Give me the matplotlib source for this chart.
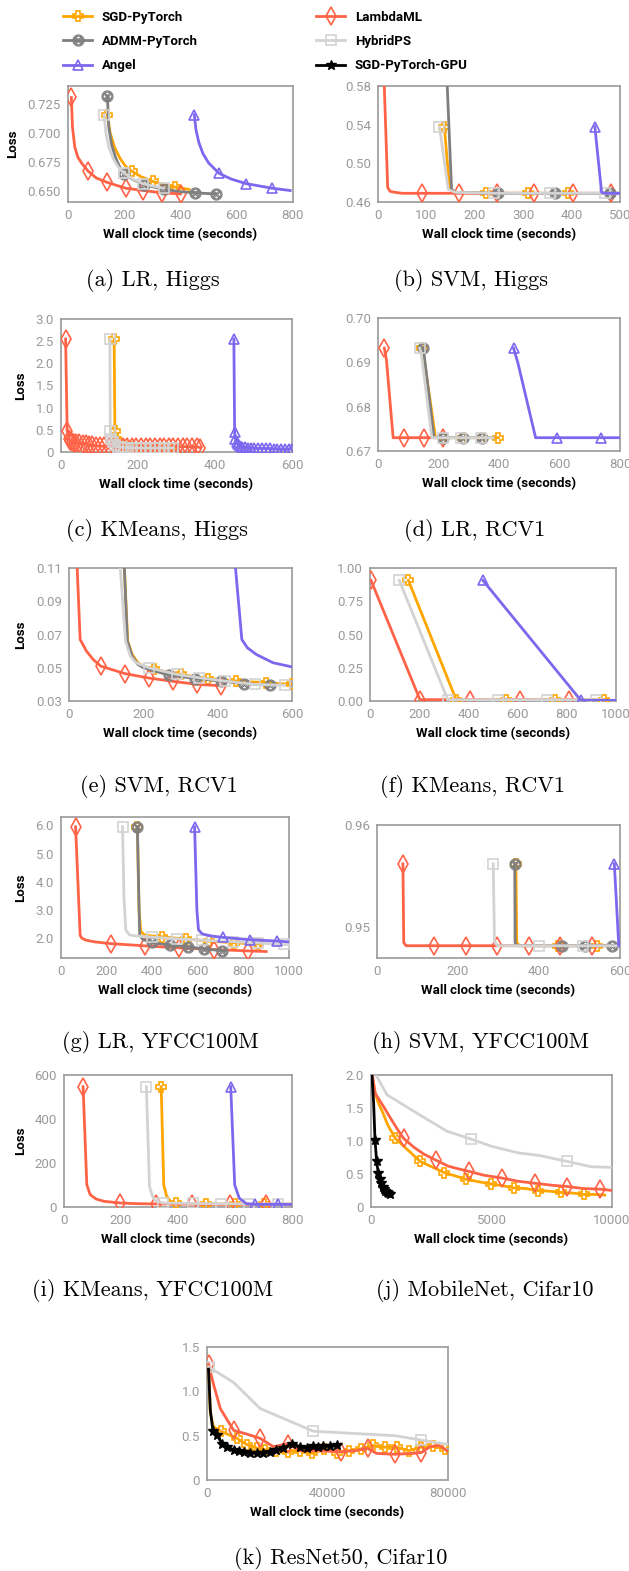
import matplotlib
matplotlib.use("Agg")
import matplotlib.pyplot as plt
from matplotlib.lines import Line2D

# ---------------- data ----------------
# (a) LR, Higgs
a_lam_x = [12, 16, 24, 35, 48, 71, 100, 140, 205, 268, 333, 400]
a_lam_y = [0.731, 0.705, 0.688, 0.679, 0.674, 0.667, 0.661, 0.657, 0.652, 0.650, 0.648, 0.647]
a_sgd_x = [140, 150, 165, 185, 205, 226, 260, 301, 340, 380, 430]
a_sgd_y = [0.716, 0.700, 0.688, 0.678, 0.671, 0.667, 0.662, 0.658, 0.655, 0.653, 0.651]
a_admm_x = [140, 145, 155, 170, 185, 200, 235, 270, 340, 400, 450, 525]
a_admm_y = [0.732, 0.705, 0.690, 0.678, 0.670, 0.664, 0.659, 0.655, 0.651, 0.649, 0.648, 0.647]
a_hyb_x = [128, 135, 145, 160, 180, 200, 230, 265, 300, 340]
a_hyb_y = [0.716, 0.700, 0.688, 0.678, 0.670, 0.665, 0.660, 0.656, 0.654, 0.652]
a_ang_x = [449, 455, 465, 480, 500, 537, 580, 633, 680, 725, 790]
a_ang_y = [0.716, 0.703, 0.692, 0.682, 0.674, 0.665, 0.660, 0.656, 0.654, 0.652, 0.650]

# (b) SVM, Higgs
b_lam_x = [5, 20, 25, 35, 50, 90, 168, 245, 323, 402, 481, 500]
b_lam_y = [0.700, 0.475, 0.471, 0.470, 0.469, 0.469, 0.469, 0.469, 0.469, 0.469, 0.469, 0.469]
b_sgd_x = [137, 148, 160, 223, 309, 393, 400]
b_sgd_y = [0.538, 0.473, 0.470, 0.469, 0.469, 0.469, 0.469]
b_admm_x = [133, 152, 160, 248, 365, 480, 500]
b_admm_y = [0.700, 0.473, 0.470, 0.469, 0.469, 0.469, 0.469]
b_hyb_x = [127, 145, 160, 240, 355, 470, 500]
b_hyb_y = [0.538, 0.473, 0.470, 0.469, 0.469, 0.469, 0.469]
b_ang_x = [448, 462, 470, 500]
b_ang_y = [0.538, 0.470, 0.469, 0.469]

# (c) KMeans, Higgs
c_lam_x = [12, 16, 20, 24, 28, 34, 40, 48, 56, 64, 72, 80, 90, 100, 112, 124, 136, 148,
           160, 172, 184, 196, 208, 220, 232, 244, 256, 268, 280, 292, 304, 316, 328, 340, 352, 362]
c_lam_y = [2.55, 0.48, 0.30, 0.24, 0.22, 0.21, 0.20, 0.20, 0.19, 0.18, 0.16, 0.15, 0.14, 0.13,
           0.13, 0.12, 0.12, 0.12, 0.12, 0.12, 0.12, 0.12, 0.12, 0.12, 0.12, 0.12, 0.12, 0.12,
           0.12, 0.12, 0.12, 0.12, 0.12, 0.12, 0.12, 0.10]
c_sgd_x = [138, 140, 143, 147, 152, 160, 170, 180, 190, 200, 212, 224, 236, 248, 260, 272, 284]
c_sgd_y = [2.55, 0.48, 0.30, 0.22, 0.18, 0.14, 0.12, 0.11, 0.10, 0.10, 0.10, 0.10, 0.10, 0.10,
           0.10, 0.10, 0.10]
c_hyb_x = [127, 128, 131, 135, 140, 148, 156, 164, 174, 184, 196, 208, 220, 232, 244, 256,
           268, 280, 292]
c_hyb_y = [2.55, 0.48, 0.30, 0.22, 0.16, 0.12, 0.11, 0.10, 0.10, 0.10, 0.09, 0.09, 0.09, 0.09,
           0.09, 0.09, 0.09, 0.09, 0.09]
c_ang_x = [449, 451, 453, 456, 460, 465, 470, 478, 486, 494, 502, 512, 522, 532, 542, 552,
           562, 572, 582, 592, 600]
c_ang_y = [2.55, 0.45, 0.30, 0.22, 0.17, 0.14, 0.12, 0.11, 0.10, 0.09, 0.09, 0.08, 0.08, 0.08,
           0.08, 0.07, 0.07, 0.07, 0.07, 0.07, 0.07]

# (d) LR, RCV1
d_lam_x = [21, 28, 50, 87, 152, 215]
d_lam_y = [0.6932, 0.6905, 0.673, 0.673, 0.673, 0.673]
d_sgd_x = [145, 150, 190, 215, 280, 345, 398]
d_sgd_y = [0.6932, 0.692, 0.673, 0.673, 0.673, 0.673, 0.673]
d_admm_x = [148, 152, 185, 215, 280, 345, 380]
d_admm_y = [0.6932, 0.692, 0.673, 0.673, 0.673, 0.673, 0.673]
d_hyb_x = [138, 143, 178, 215, 275, 340, 380]
d_hyb_y = [0.6932, 0.692, 0.673, 0.673, 0.673, 0.673, 0.673]
d_ang_x = [448, 462, 521, 593, 738, 800]
d_ang_y = [0.6932, 0.690, 0.673, 0.673, 0.673, 0.673]

# (e) SVM, RCV1
e_lam_x = [18, 22, 30, 47, 65, 85, 150, 215, 280, 345, 410]
e_lam_y = [0.13, 0.11, 0.067, 0.060, 0.055, 0.051, 0.0465, 0.0438, 0.0418, 0.0400, 0.0392]
e_sgd_x = [145, 149, 158, 170, 185, 200, 230, 300, 375, 450, 530, 600]
e_sgd_y = [0.13, 0.11, 0.066, 0.058, 0.053, 0.051, 0.049, 0.046, 0.0435, 0.042, 0.041, 0.040]
e_admm_x = [145, 149, 157, 170, 185, 200, 270, 340, 410, 470, 540]
e_admm_y = [0.13, 0.11, 0.066, 0.057, 0.052, 0.050, 0.0455, 0.0435, 0.042, 0.0405, 0.0395]
e_hyb_x = [134, 138, 152, 165, 180, 215, 290, 350, 420, 500, 580]
e_hyb_y = [0.13, 0.11, 0.066, 0.057, 0.053, 0.050, 0.046, 0.044, 0.042, 0.040, 0.0395]
e_ang_x = [443, 448, 465, 480, 504, 549, 600]
e_ang_y = [0.13, 0.11, 0.067, 0.062, 0.058, 0.053, 0.0505]

# (f) KMeans, RCV1
f_lam_x = [4, 203, 407, 608, 807, 830]
f_lam_y = [0.907, 0.01, 0.01, 0.01, 0.01, 0.01]
f_sgd_x = [156, 350, 553, 753, 950, 960]
f_sgd_y = [0.907, 0.01, 0.01, 0.01, 0.01, 0.01]
f_hyb_x = [119, 316, 522, 719, 920, 940]
f_hyb_y = [0.907, 0.01, 0.01, 0.01, 0.01, 0.01]
f_ang_x = [459, 857, 1000]
f_ang_y = [0.907, 0.005, 0.005]

# (g) LR, YFCC100M
g_lam_x = [64, 84, 92, 110, 150, 218, 368, 519, 673, 822, 900]
g_lam_y = [5.95, 2.10, 2.00, 1.93, 1.87, 1.81, 1.73, 1.66, 1.60, 1.55, 1.53]
g_sgd_x = [335, 342, 350, 365, 400, 444, 547, 650, 757, 866, 880]
g_sgd_y = [5.95, 3.0, 2.25, 2.12, 2.08, 2.05, 1.97, 1.90, 1.84, 1.80, 1.79]
g_admm_x = [335, 345, 360, 400, 478, 558, 627, 705, 720]
g_admm_y = [5.95, 2.1, 1.95, 1.85, 1.75, 1.70, 1.62, 1.56, 1.55]
g_hyb_x = [270, 276, 284, 300, 330, 397, 507, 620, 754, 866, 976, 1000]
g_hyb_y = [5.95, 3.5, 2.3, 2.12, 2.08, 2.04, 1.98, 1.93, 1.88, 1.83, 1.78, 1.77]
g_ang_x = [586, 596, 603, 620, 660, 710, 830, 947, 1000]
g_ang_y = [5.95, 3.0, 2.3, 2.15, 2.08, 2.03, 1.95, 1.90, 1.87]

# (h) SVM, YFCC100M
h_lam_x = [64, 66, 72, 141, 219, 297, 375, 452, 530, 600]
h_lam_y = [0.9562, 0.9485, 0.9482, 0.9482, 0.9482, 0.9482, 0.9482, 0.9482, 0.9482, 0.9482]
h_sgd_x = [343, 345, 352, 448, 542, 600]
h_sgd_y = [0.9562, 0.9485, 0.9482, 0.9482, 0.9482, 0.9482]
h_admm_x = [340, 341, 345, 458, 513, 580, 600]
h_admm_y = [0.9562, 0.9485, 0.9482, 0.9482, 0.9482, 0.9482, 0.9482]
h_hyb_x = [287, 290, 298, 399, 509, 600]
h_hyb_y = [0.9562, 0.9486, 0.9482, 0.9482, 0.9482, 0.9482]
h_ang_x = [586, 597, 600]
h_ang_y = [0.9562, 0.9482, 0.9482]

# (i) KMeans, YFCC100M
i_lam_x = [67, 80, 92, 113, 140, 198, 260, 324, 450, 581, 710, 800]
i_lam_y = [547, 101, 56, 36, 26, 18, 15, 14, 13, 12, 12, 12]
i_sgd_x = [341, 350, 360, 375, 394, 497, 599, 700, 800]
i_sgd_y = [547, 100, 50, 22, 16, 14, 13, 13, 13]
i_hyb_x = [289, 300, 310, 320, 347, 453, 550, 650, 750, 800]
i_hyb_y = [547, 94, 50, 30, 18, 16, 15, 14, 14, 14]
i_ang_x = [585, 599, 615, 640, 669, 751, 800]
i_ang_y = [547, 100, 40, 15, 12, 12, 12]

# (j) MobileNet, Cifar10
j_gpu_x = [25, 110, 166, 234, 303, 359, 420, 480, 540, 600, 660, 720, 772]
j_gpu_y = [2.1, 1.57, 1.02, 0.69, 0.51, 0.42, 0.36, 0.31, 0.28, 0.25, 0.23, 0.21, 0.19]
j_sgd_x = [30, 150, 300, 500, 700, 1007, 1628, 2041, 2455, 3048, 3500, 3945, 4500, 4979,
           5500, 5931, 6400, 6910, 7400, 7903, 8400, 8828, 9300, 9700]
j_sgd_y = [2.05, 1.75, 1.58, 1.42, 1.24, 1.04, 0.83, 0.69, 0.62, 0.52, 0.47, 0.42, 0.38, 0.35,
           0.32, 0.29, 0.28, 0.25, 0.24, 0.22, 0.21, 0.19, 0.19, 0.18]
j_lam_x = [30, 179, 524, 869, 1214, 1352, 1800, 2200, 2690, 3200, 3600, 4069, 4700, 5421,
           6100, 6800, 7500, 8152, 8800, 9517, 10000]
j_lam_y = [2.05, 1.72, 1.52, 1.31, 1.11, 1.04, 0.90, 0.80, 0.71, 0.62, 0.58, 0.54, 0.48, 0.44,
           0.39, 0.36, 0.33, 0.31, 0.28, 0.27, 0.25]
j_hyb_x = [207, 662, 1200, 2000, 3145, 4138, 5000, 6110, 7000, 8138, 9145, 10000]
j_hyb_y = [2.00, 1.70, 1.58, 1.40, 1.15, 1.03, 0.92, 0.82, 0.78, 0.69, 0.61, 0.60]

# (k) ResNet50, Cifar10
k_hyb_x = [552, 8828, 17655, 35310, 62345, 71172, 80000]
k_hyb_y = [1.275, 1.10, 0.806, 0.55, 0.50, 0.45, 0.40]
k_lam_x = [500, 2000, 4414, 8828, 13000, 17655, 22069, 26800, 30900, 36000, 44470, 49000,
           53300, 56276, 62345, 68400, 71172, 74000, 77200, 80000]
k_lam_y = [1.31, 1.10, 0.806, 0.56, 0.52, 0.47, 0.375, 0.41, 0.33, 0.33, 0.32, 0.33,
           0.356, 0.30, 0.29, 0.30, 0.31, 0.375, 0.39, 0.32]
k_sgd_x = [500, 1100, 2200, 4634, 9931, 13241, 16550, 19300, 23000, 27000, 31000, 35000,
           39000, 43000, 47000, 51000, 55000, 59000, 63000, 67000, 71000, 75000, 79000]
k_sgd_y = [1.28, 0.75, 0.60, 0.55, 0.47, 0.40, 0.36, 0.34, 0.33, 0.32, 0.33, 0.30,
           0.35, 0.31, 0.33, 0.35, 0.39, 0.37, 0.37, 0.33, 0.37, 0.38, 0.35]
k_gpu_x = [500, 1100, 1986, 3310, 4966, 6620, 8828, 10500, 12138, 14300, 16550, 18700,
           20966, 23000, 25380, 28138, 30900, 33100, 35310, 37000, 38620, 40800, 43034]
k_gpu_y = [1.25, 0.79, 0.55, 0.51, 0.41, 0.375, 0.34, 0.33, 0.32, 0.31, 0.30, 0.31,
           0.32, 0.34, 0.36, 0.41, 0.375, 0.36, 0.38, 0.37, 0.38, 0.38, 0.39]

# ---------------- styles ----------------
SANS = "Roboto"
TICK_GRAY = "#9a9a9a"
STYLE = {
    "SGD-PyTorch": dict(color="#FFA500", marker="P", ms=6.5, mfc="none", mew=1.2, z=3),
    "ADMM-PyTorch": dict(color="#7f7f7f", marker=r"$\otimes$", ms=8, mfc="none", mew=0.8, z=4),
    "Angel": dict(color="#7B68EE", marker="^", ms=7, mfc="none", mew=1.2, z=6),
    "LambdaML": dict(color="#FF6347", marker="d", ms=9, mfc="none", mew=1.2, z=3.5),
    "HybridPS": dict(color="#D3D3D3", marker="s", ms=6.5, mfc="none", mew=1.2, z=5),
    "SGD-PyTorch-GPU": dict(color="black", marker="*", ms=7, mfc="black", mew=1.0, z=7),
}

W, H = 629, 1571
fig = plt.figure(figsize=(W / 100, H / 100), dpi=100)


def curve(ax, name, x, y, marks):
    st = STYLE[name]
    ax.plot(x, y, color=st["color"], lw=2, marker=st["marker"], ms=st["ms"],
            mfc=st["mfc"], mec=st["color"], mew=st["mew"], markevery=marks, zorder=st["z"])


def panel(box, xlim, xticks, ylim, yticks, ylabels, caption, cap_x, cap_y, loss):
    left, top, right, bottom = box
    ax = fig.add_axes([left / W, 1 - bottom / H, (right - left) / W, (bottom - top) / H])
    ax.set_xlim(*xlim)
    ax.set_ylim(*ylim)
    ax.set_xticks(xticks, [str(t) for t in xticks])
    ax.set_yticks(yticks, ylabels)
    ax.tick_params(length=0, labelsize=9.5, labelcolor=TICK_GRAY, pad=5)
    for lab in ax.get_xticklabels() + ax.get_yticklabels():
        lab.set_fontfamily(SANS)
    for sp in ax.spines.values():
        sp.set_color(TICK_GRAY)
        sp.set_linewidth(1.2)
    xc = (left + right) / 2
    fig.text(xc / W, 1 - (bottom + 33) / H, "Wall clock time (seconds)", ha="center",
             va="center", fontsize=9.5, fontweight="bold", fontfamily=SANS)
    if loss:
        fig.text(loss / W, 1 - (top + bottom) / 2 / H, "Loss", rotation=90, ha="center",
                 va="center", fontsize=9.5, fontweight="bold", fontfamily=SANS)
    fig.text(cap_x / W, 1 - cap_y / H, caption, ha="center", va="center",
             fontsize=16, fontfamily="cmr10")
    return ax


# (a)
ax = panel((68, 86, 293, 202), (0, 800), [0, 200, 400, 600, 800], (0.64, 0.741),
           [0.65, 0.675, 0.70, 0.725], ["0.650", "0.675", "0.700", "0.725"],
           "(a) LR, Higgs", 153, 281, 13)
curve(ax, "SGD-PyTorch", a_sgd_x, a_sgd_y, [0, 5, 7, 9])
curve(ax, "LambdaML", a_lam_x, a_lam_y, [0, 5, 7, 8, 9, 10, 11])
curve(ax, "ADMM-PyTorch", a_admm_x, a_admm_y, [0, 5, 7, 8, 10, 11])
curve(ax, "HybridPS", a_hyb_x, a_hyb_y, [0, 5, 7, 9])
curve(ax, "Angel", a_ang_x, a_ang_y, [0, 5, 7, 9])

# (b)
ax = panel((378, 86, 620, 202), (0, 500), [0, 100, 200, 300, 400, 500], (0.46, 0.58),
           [0.46, 0.50, 0.54, 0.58], ["0.46", "0.50", "0.54", "0.58"],
           "(b) SVM, Higgs", 471, 281, None)
curve(ax, "SGD-PyTorch", b_sgd_x, b_sgd_y, [0, 3, 4, 5])
curve(ax, "LambdaML", b_lam_x, b_lam_y, [5, 6, 7, 8, 9, 10])
curve(ax, "ADMM-PyTorch", b_admm_x, b_admm_y, [3, 4, 5])
curve(ax, "HybridPS", b_hyb_x, b_hyb_y, [0, 3, 4, 5])
curve(ax, "Angel", b_ang_x, b_ang_y, [0])

# (c)
ax = panel((61, 319, 292, 452), (0, 600), [0, 200, 400, 600], (0, 3.0),
           [0, 0.5, 1.0, 1.5, 2.0, 2.5, 3.0], ["0", "0.5", "1.0", "1.5", "2.0", "2.5", "3.0"],
           "(c) KMeans, Higgs", 157, 531, 21)
curve(ax, "SGD-PyTorch", c_sgd_x, c_sgd_y, None)
curve(ax, "LambdaML", c_lam_x, c_lam_y, None)
curve(ax, "HybridPS", c_hyb_x, c_hyb_y, None)
curve(ax, "Angel", c_ang_x, c_ang_y, None)

# (d)
ax = panel((378, 318, 620, 451), (0, 800), [0, 200, 400, 600, 800], (0.67, 0.70),
           [0.67, 0.68, 0.69, 0.70], ["0.67", "0.68", "0.69", "0.70"],
           "(d) LR, RCV1", 475, 531, None)
curve(ax, "SGD-PyTorch", d_sgd_x, d_sgd_y, [0, 3, 4, 5, 6])
curve(ax, "LambdaML", d_lam_x, d_lam_y, [0, 3, 4, 5])
curve(ax, "ADMM-PyTorch", d_admm_x, d_admm_y, [0, 3, 4, 5])
curve(ax, "HybridPS", d_hyb_x, d_hyb_y, [0, 3, 4, 5])
curve(ax, "Angel", d_ang_x, d_ang_y, [0, 3, 4])

# (e)
ax = panel((69, 568, 292, 701), (0, 600), [0, 200, 400, 600], (0.03, 0.11),
           [0.03, 0.05, 0.07, 0.09, 0.11], ["0.03", "0.05", "0.07", "0.09", "0.11"],
           "(e) SVM, RCV1", 159, 787, 21)
curve(ax, "SGD-PyTorch", e_sgd_x, e_sgd_y, [6, 7, 8, 9, 10, 11])
curve(ax, "LambdaML", e_lam_x, e_lam_y, [5, 6, 7, 8, 9, 10])
curve(ax, "ADMM-PyTorch", e_admm_x, e_admm_y, [6, 7, 8, 9, 10])
curve(ax, "HybridPS", e_hyb_x, e_hyb_y, [5, 6, 7, 8, 9, 10])
curve(ax, "Angel", e_ang_x, e_ang_y, [])

# (f)
ax = panel((370, 568, 616, 701), (0, 1000), [0, 200, 400, 600, 800, 1000], (0, 1.0),
           [0, 0.25, 0.5, 0.75, 1.0], ["0.00", "0.25", "0.50", "0.75", "1.00"],
           "(f) KMeans, RCV1", 472, 787, None)
curve(ax, "SGD-PyTorch", f_sgd_x, f_sgd_y, [0, 1, 2, 3, 4])
curve(ax, "LambdaML", f_lam_x, f_lam_y, [0, 1, 2, 3, 4])
curve(ax, "HybridPS", f_hyb_x, f_hyb_y, [0, 1, 2, 3, 4])
curve(ax, "Angel", f_ang_x, f_ang_y, [0, 1])

# (g)
ax = panel((61, 817, 289, 958), (0, 1000), [0, 200, 400, 600, 800, 1000], (1.3, 6.3),
           [2, 3, 4, 5, 6], ["2.0", "3.0", "4.0", "5.0", "6.0"],
           "(g) LR, YFCC100M", 160, 1043, 21)
curve(ax, "SGD-PyTorch", g_sgd_x, g_sgd_y, [0, 5, 6, 7, 8, 9])
curve(ax, "LambdaML", g_lam_x, g_lam_y, [0, 5, 6, 7, 8, 9])
curve(ax, "ADMM-PyTorch", g_admm_x, g_admm_y, [0, 3, 4, 5, 6, 7])
curve(ax, "HybridPS", g_hyb_x, g_hyb_y, [0, 5, 6, 7, 8, 9, 10])
curve(ax, "Angel", g_ang_x, g_ang_y, [0, 5, 6, 7])

# (h)
ax = panel((377, 825, 620, 958), (0, 600), [0, 200, 400, 600], (0.947, 0.96),
           [0.95, 0.96], ["0.95", "0.96"],
           "(h) SVM, YFCC100M", 480, 1043, None)
curve(ax, "SGD-PyTorch", h_sgd_x, h_sgd_y, [0, 3, 4])
curve(ax, "LambdaML", h_lam_x, h_lam_y, [0, 3, 4, 5, 6, 7, 8])
curve(ax, "ADMM-PyTorch", h_admm_x, h_admm_y, [0, 3, 4, 5])
curve(ax, "HybridPS", h_hyb_x, h_hyb_y, [0, 3, 4])
curve(ax, "Angel", h_ang_x, h_ang_y, [0])

# (i)
ax = panel((64, 1075, 292, 1207), (0, 800), [0, 200, 400, 600, 800], (0, 600),
           [0, 200, 400, 600], ["0", "200", "400", "600"],
           "(i) KMeans, YFCC100M", 153, 1291, 21)
curve(ax, "SGD-PyTorch", i_sgd_x, i_sgd_y, [0, 4, 5, 6, 7])
curve(ax, "LambdaML", i_lam_x, i_lam_y, [0, 5, 7, 8, 9, 10])
curve(ax, "HybridPS", i_hyb_x, i_hyb_y, [0, 4, 5, 6, 7, 8])
curve(ax, "Angel", i_ang_x, i_ang_y, [0, 4, 5])

# (j)
ax = panel((371, 1075, 612, 1207), (0, 10000), [0, 5000, 10000], (0, 2.0),
           [0, 0.5, 1.0, 1.5, 2.0], ["0", "0.5", "1.0", "1.5", "2.0"],
           "(j) MobileNet, Cifar10", 485, 1291, None)
curve(ax, "SGD-PyTorch", j_sgd_x, j_sgd_y, [5, 7, 9, 11, 13, 15, 17, 19, 21])
curve(ax, "LambdaML", j_lam_x, j_lam_y, [5, 8, 11, 13, 15, 17, 19])
curve(ax, "HybridPS", j_hyb_x, j_hyb_y, [5, 9])
curve(ax, "SGD-PyTorch-GPU", j_gpu_x, j_gpu_y, list(range(2, len(j_gpu_x))))

# (k)
ax = panel((207, 1347, 448, 1480), (0, 80000), [0, 40000, 80000], (0, 1.5),
           [0, 0.5, 1.0, 1.5], ["0", "0.5", "1.0", "1.5"],
           "(k) ResNet50, Cifar10", 341, 1559, None)
curve(ax, "SGD-PyTorch", k_sgd_x, k_sgd_y, list(range(3, len(k_sgd_x))))
curve(ax, "LambdaML", k_lam_x, k_lam_y, [0, 3, 5, 7, 10, 12, 14, 16])
curve(ax, "HybridPS", k_hyb_x, k_hyb_y, [0, 3, 5])
curve(ax, "SGD-PyTorch-GPU", k_gpu_x, k_gpu_y, list(range(2, len(k_gpu_x))))

# ---------------- legend ----------------
def handle(name):
    st = STYLE[name]
    return Line2D([], [], color=st["color"], lw=2, marker=st["marker"], ms=st["ms"],
                  mfc=st["mfc"], mec=st["color"], mew=st["mew"])


for names, x0 in [(["SGD-PyTorch", "ADMM-PyTorch", "Angel"], 63),
                  (["LambdaML", "HybridPS", "SGD-PyTorch-GPU"], 316)]:
    fig.legend([handle(n) for n in names], names, loc="upper left",
               bbox_to_anchor=(x0 / W, 1 - 11 / H), frameon=False, borderpad=0,
               borderaxespad=0, handlelength=2.2, handletextpad=0.75, labelspacing=0.84,
               numpoints=1, prop=dict(family=SANS, weight="bold", size=9.5))

fig.savefig("out.png", dpi=100)
